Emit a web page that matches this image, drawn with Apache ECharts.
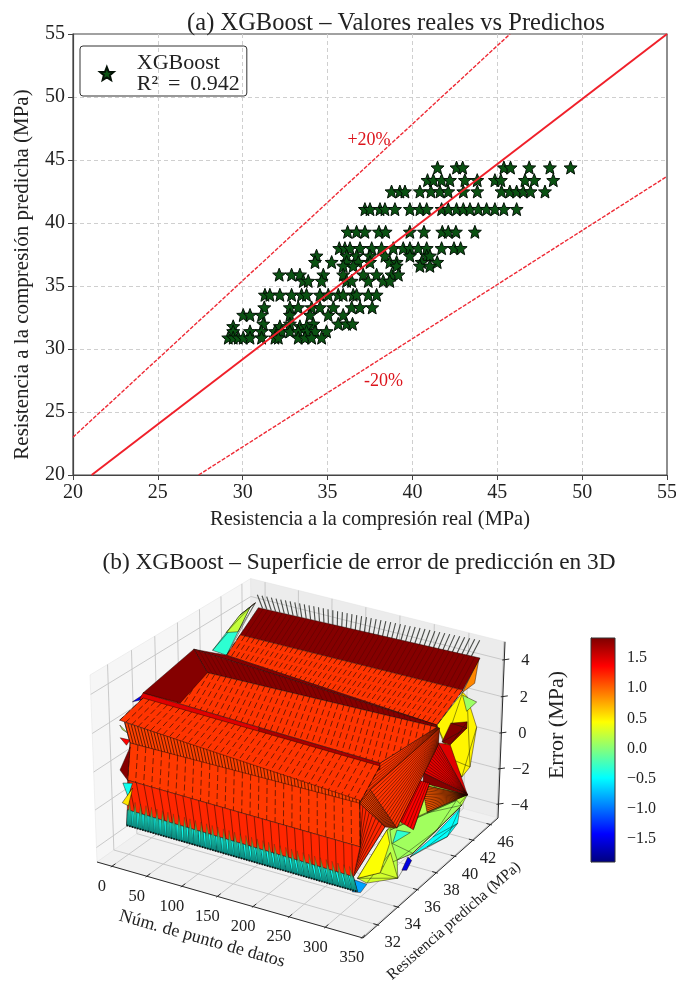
<!DOCTYPE html>
<html>
<head>
<meta charset="utf-8">
<style>
  html, body { margin: 0; background: #fff; }
  #chartDom { width: 676px; height: 981px; }
</style>
<script src="https://cdn.jsdelivr.net/npm/echarts@6/dist/echarts.min.js"></script>
</head>
<body>
<div id="chartDom"></div>
<script>
const FONT = '"Liberation Serif"';

// panel (a): stars grouped by predicted level, real values per level
const predLevels = [44.4, 43.4, 42.5, 41.1, 39.3, 38.0, 37.4, 36.9, 36.6, 35.9, 35.4, 34.3, 33.3, 32.7, 32.0, 31.8, 31.4, 30.9];
const realByLevel = [
  [41.48, 42.6, 42.96, 45.39, 45.78, 46.88, 48.1, 49.32],
  [40.89, 41.23, 41.72, 42.21, 43.09, 43.82, 44.86, 45.21, 46.63, 47.18, 48.3],
  [38.77, 39.26, 39.56, 40.44, 41.09, 41.62, 42.11, 43.0, 43.82, 45.25, 45.74, 46.14, 46.53, 46.96, 47.81],
  [37.2, 37.5, 38.09, 38.38, 38.97, 39.85, 40.44, 40.84, 41.72, 42.11, 42.6, 43.0, 43.39, 43.88, 44.37, 44.86, 45.39, 46.14],
  [36.18, 36.71, 37.2, 38.03, 38.42, 39.85, 40.68, 41.76, 42.11, 42.56, 43.68],
  [35.69, 36.02, 36.32, 36.91, 37.6, 38.18, 38.87, 39.46, 39.85, 40.34, 40.84, 41.72, 42.45, 42.84],
  [34.35, 36.12, 36.71, 37.5, 38.38, 39.85, 40.84, 41.03],
  [34.26, 35.24, 36.12, 36.81, 37.5, 38.67, 39.07, 40.54, 41.46],
  [35.92, 36.51, 39.07, 40.44, 41.03],
  [32.15, 32.88, 33.37, 34.75, 35.92, 37.1, 37.89, 38.77, 39.17],
  [33.57, 33.86, 34.65, 36.12, 36.42, 37.4, 38.28, 38.67],
  [31.31, 31.6, 32.19, 32.88, 33.47, 33.76, 34.55, 35.04, 35.63, 35.92, 36.51, 36.71, 37.4, 37.89],
  [31.27, 32.78, 33.27, 34.06, 34.55, 35.34, 36.42, 36.91, 37.63],
  [30.03, 30.43, 31.11, 32.78, 33.96, 35.04, 35.92],
  [31.21, 32.78, 34.16, 35.63, 36.12, 36.47],
  [29.44, 32.19, 33.37, 33.76],
  [29.44, 30.43, 31.11, 31.9, 32.29, 32.78, 33.27, 33.76, 34.26, 34.94],
  [29.15, 29.44, 29.74, 30.03, 30.43, 31.11, 31.9, 32.1, 33.27, 33.67, 34.06, 34.65]
];
const perfectLine = [[21.1, 20], [55, 55]];
const upperLine = [[20, 23], [45.75, 55]];
const lowerLine = [[27.4, 20], [55, 43.7]];
const bandNotes = [['+20%', 37.44, 46.6], ['-20%', 38.3, 27.46]];

// panel (b): axes of the 3D box
const idxLimits = [-21.6, 351.6];
const predLimits = [30.57, 44.86];
const errLimits = [-4.78, 4.98];
const idxTicks = [0, 50, 100, 150, 200, 250, 300, 350];
const predTicks = [32, 34, 36, 38, 40, 42, 44];
const predTickLabels = ['32', '34', '36', '38', '40', '42', '46'];
const errTicks = [-4, -2, 0, 2, 4];

// panel (b): surface pieces as [point number, predicted strength, error]
const needleBase = [[0, 44.6, 3.64], [340, 42.0, 5.11]];
const needleTip = [[0, 44.1, 4.55], [340, 42.9, 5.66]];
const spikeBase = [[0, 31.9, -3.17], [340, 30.8, -2.57]];
const spikeTip = [[0, 32.0, -1.86], [340, 30.3, -1.07]];
const backFringe = [[0, 39.8, 3.06], [0, 41.1, 2.32], [0, 43.4, 4.13], [0, 43.9, 4.18], [0, 42.4, 4.03]];
const backFringeTip = [[0, 41.1, 3.55], [0, 42.2, 3.2], [0, 43.4, 4.13], [0, 43.9, 4.18], [0, 42.4, 4.03]];
const blueTip = [[0, 32.7, 3.01], [0, 34.5, 3.05], [0, 34.2, 2.79], [0, 33.3, 2.86]];
const rimTop = [[0, 44.2, 3.81], [340, 43.0, 4.68], [340, 41.2, 3.65], [0, 42.4, 2.96]];
const rimSlope = [[0, 42.4, 2.96], [340, 41.2, 3.65], [340, 38.5, 2.85], [0, 41.1, 2.32]];
const rimFoot = [[0, 38.1, 3.74], [0, 41.1, 2.32], [340, 38.5, 2.85]];
const wedge = [[0, 38.1, 3.74], [340, 38.5, 2.85], [340, 38.5, 2.74], [0, 39.3, 2.04]];
const wedgeEnd = [[0, 38.1, 3.74], [0, 39.3, 2.04], [0, 36.8, 1.37], [0, 33.6, 3.12]];
const plate = [[0, 39.3, 2.04], [340, 38.5, 2.74], [340, 32.8, 3.19], [0, 33.6, 3.12]];
const ridgeLeft = [[0, 33.6, 3.12], [170, 33.2, 3.15], [170, 33.05, 2.93], [0, 33.3, 2.91]];
const ridgeRight = [[170, 33.2, 3.15], [340, 32.8, 3.19], [340, 32.8, 2.85], [170, 33.05, 2.93]];
const midBand = [[0, 33.6, 2.86], [340, 32.8, 3.04], [340, 30.9, 1.95], [0, 31.6, 2.49]];
const furrow = [[0, 32.0, 2.23], [340, 30.9, 2.10], [340, 30.9, 1.79], [0, 32.4, 0.99]];
const frontPanel = [[0, 32.4, 0.99], [340, 30.9, 1.95], [340, 31.0, -0.33], [0, 32.1, -0.85]];
const lowPanel = [[0, 32.1, -0.85], [340, 31.0, -0.33], [340, 30.4, -1.60], [0, 32.0, -2.38]];
const flap = [[340, 30.9, 1.95], [340, 33.4, -0.36], [340, 30.4, -1.60], [340, 31.0, -0.33]];
const slabFoot = [[340, 30.9, 1.95], [340, 31.9, 2.21], [340, 34.6, -0.95], [340, 33.4, -0.36]];
const slabGap = [[340, 38.5, 2.74], [340, 38.8, 2.56], [340, 30.9, 1.95], [340, 32.8, 3.19]];
const slab = [[340, 38.8, 2.56], [340, 38.7, 1.73], [340, 34.6, -0.95], [340, 31.9, 2.21]];
const slabSide = [[340, 36.84, 0.61], [340, 37.9, 0.01], [340, 36.3, -1.79], [340, 34.74, -0.62]];
const tailDark = [[340, 40.0, 2.36], [340, 41.8, 1.72], [340, 41.8, 1.38], [340, 40.0, 1.20], [340, 39.1, 1.72]];
const tailRed = [[340, 42.1, -2.39], [340, 42.1, -2.39], [340, 37.2, 0.86], [340, 38.7, 1.83]];
const tailRedSide = [[340, 42.1, -2.39], [340, 42.1, -2.39], [340, 38.7, 1.83], [340, 40.0, 1.20]];
const tailShade = [[340, 37.2, 0.86], [340, 42.1, -2.39], [340, 37.2, 0.32]];
const tailFan = [[340, 42.1, -2.39], [340, 42.1, -2.39], [340, 37.7, -1.45], [340, 37.1, 0.26]];
const amberEnd = [[340, 42.9, 4.72], [340, 42.5, 3.52], [340, 41.2, 3.54]];
const yellowWall = [[340, 41.7, 3.10], [340, 42.9, 0.99], [340, 42.3, -0.94], [340, 41.4, -1.13], [340, 40.3, 0.28], [340, 39.4, 1.42], [340, 38.5, 2.85], [340, 41.2, 3.54]];
const wallTips = [[340, 41.2, 3.38], [340, 42.8, 2.40], [340, 41.7, 2.33]];
const patchBase = [[340, 33.6, -0.61], [340, 37.9, 0.01], [340, 42.1, -2.39], [340, 41.5, -2.72], [340, 38.8, -2.92], [340, 36.3, -3.06], [340, 34.7, -2.69], [340, 34.8, -3.72], [340, 30.8, -1.87]];
const patchYellow = [[340, 33.6, -0.61], [340, 30.8, -1.87], [340, 33.0, -2.60], [340, 33.9, -1.44]];
const patchLime = [[340, 30.8, -1.87], [340, 31.7, -2.54], [340, 34.8, -3.72], [340, 34.0, -1.98], [340, 33.0, -2.60]];
const patchGreen = [[340, 33.9, -0.75], [340, 37.7, -1.50], [340, 40.9, -2.19], [340, 41.5, -2.72], [340, 38.8, -2.92], [340, 36.3, -3.06], [340, 34.7, -2.69], [340, 34.1, -1.53]];
const patchCyan = [[340, 38.4, -3.12], [340, 41.3, -2.80], [340, 41.1, -3.56], [340, 40.0, -3.81], [340, 37.8, -3.39], [340, 36.0, -3.13]];
const patchBlue = [[340, 35.2, -3.47], [340, 35.8, -3.04], [340, 36.2, -3.40], [340, 35.7, -3.71]];
const patchAqua = [[340, 34.6, -1.06], [340, 36.0, -1.81], [340, 34.2, -1.58]];
const patchCorner = [[340, 30.4, -1.75], [340, 31.7, -2.60], [340, 31.1, -2.76], [340, 30.3, -2.34]];
const leftGreen = [[0, 31.6, 2.24], [0, 32.2, 1.60], [0, 31.8, 1.92]];
const leftDark = [[0, 31.5, -0.06], [0, 32.4, 0.78], [0, 32.1, -0.85]];
const leftCyan = [[0, 31.7, -0.83], [0, 32.5, -1.18], [0, 32.1, -1.74]];
const leftYellow = [[0, 31.6, -1.83], [0, 32.5, -1.44], [0, 32.1, -2.21]];
const leftRed = [[0, 31.6, 1.58], [0, 32.4, 1.14], [0, 32.1, 0.99]];
const spikeBand = [[0, 31.9, -3.17], [340, 30.8, -2.57], [340, 30.4, -1.60], [0, 32.0, -2.38]];

// colorbar
const colorbarRange = [-1.88, 1.83];
const colorbarTicks = [-1.5, -1.0, -0.5, 0.0, 0.5, 1.0, 1.5];

// painted back to front: piece, colorbar value
const surfacePieces = [
  [backFringe, -0.3], [backFringeTip, 0.25], [blueTip, -1.4], [amberEnd, 0.9], [yellowWall, 0.5], [wallTips, 0.1],
  [patchBase, 0.2], [patchCyan, -0.45], [patchBlue, -1.5], [patchGreen, 0.12], [patchAqua, -0.3], [patchLime, 0.3], [patchYellow, 0.45], [patchCorner, -0.8],
  [rimTop, 1.83], [rimSlope, 1.2], [rimFoot, 1.83], [tailFan, 1.05], [tailRed, 1.5], [tailRedSide, 1.5], [tailShade, 1.83], [tailDark, 1.83],
  [slabGap, 1.2], [wedge, 1.83], [plate, 1.2], [wedgeEnd, 1.83], [ridgeLeft, 1.5], [ridgeRight, 1.7], [midBand, 1.2],
  [slabSide, 1.4], [slabFoot, 1.15], [slab, 1.2], [flap, 1.25], [furrow, 1.15], [frontPanel, 1.18], [lowPanel, 1.25], [spikeBand, -0.42],
  [leftGreen, 0.2], [leftRed, 1.4], [leftDark, 1.83], [leftCyan, -0.4], [leftYellow, 0.55]
];
// mesh lines per piece: count, lean, dash, opacity
const meshStyle = new Map([
  [rimTop, [45, 0, null, 0.3]], [rimSlope, [45, 0, [6, 3], 0.8]], [wedge, [45, 0, null, 0.3]],
  [plate, [48, 0.19, [6, 3], 0.8]], [midBand, [38, 0, [6, 3], 0.8]], [furrow, [70, 0, null, 0.85]],
  [frontPanel, [28, 0, [6, 3], 0.75]], [lowPanel, [30, 0.03, null, 0.65]], [flap, [8, 0, null, 0.7]],
  [slabFoot, [10, 0, null, 0.85]], [slabGap, [8, 0, null, 0.6]], [slab, [15, 0, null, 0.65]], [slabSide, [5, 0, null, 0.6]],
  [tailRed, [12, 0, null, 0.55]], [tailFan, [14, 0, null, 0.7]], [spikeBand, [90, 0, null, 0.7]]
]);

const jetStops = [[0, [0, 0, 127]], [0.125, [0, 0, 255]], [0.375, [0, 255, 255]], [0.625, [255, 255, 0]], [0.875, [255, 0, 0]], [1, [127, 0, 0]]];
function jetColor(t) {
  t = Math.max(0, Math.min(1, t));
  let i = 0;
  while (i < jetStops.length - 2 && t > jetStops[i + 1][0]) i++;
  const a = jetStops[i], b = jetStops[i + 1];
  const k = (t - a[0]) / (b[0] - a[0]);
  const c = a[1].map((v, n) => Math.round(v + (b[1][n] - v) * k));
  return 'rgb(' + c.join(',') + ')';
}
function levelColor(v) {
  return jetColor((v + 1.85) / 3.7);
}

// perspective of the 3D box, worked out from its corners in the scene grid
const cornerA = [97, 862], cornerB = [363, 938], cornerC = [498, 818], cornerD = [252, 752], topA = [90, 675], topC = [505, 635];
function det(a, b, c, d) { return a * d - b * c; }
const r0 = cornerC[0] + cornerA[0] - cornerB[0] - cornerD[0];
const r1 = cornerC[1] + cornerA[1] - cornerB[1] - cornerD[1];
const m0 = det(cornerB[0] - cornerC[0], cornerD[0] - cornerC[0], cornerB[1] - cornerC[1], cornerD[1] - cornerC[1]);
const wu = det(r0, cornerD[0] - cornerC[0], r1, cornerD[1] - cornerC[1]) / m0;
const wv = det(cornerB[0] - cornerC[0], r0, cornerB[1] - cornerC[1], r1) / m0;
const pu = [0, 1].map(i => cornerB[i] * (1 + wu) - cornerA[i]);
const pv = [0, 1].map(i => cornerD[i] * (1 + wv) - cornerA[i]);
const wt = (topC[0] * (1 + wu + wv) - pu[0] - pv[0] - topA[0]) / (topA[0] - topC[0]);
const pt = [0, 1].map(i => topA[i] * (1 + wt) - cornerA[i]);

function project3d(p) {
  const u = (p[0] - idxLimits[0]) / (idxLimits[1] - idxLimits[0]);
  const v = (p[1] - predLimits[0]) / (predLimits[1] - predLimits[0]);
  const t = (p[2] - errLimits[0]) / (errLimits[1] - errLimits[0]);
  const w = 1 + wu * u + wv * v + wt * t;
  return [0, 1].map(i => (cornerA[i] + pu[i] * u + pv[i] * v + pt[i] * t) / w);
}
function lerp3(a, b, k) {
  return a.map((v, i) => v + (b[i] - v) * k);
}

const xLo = idxLimits[0], xHi = idxLimits[1], yLo = predLimits[0], yHi = predLimits[1], zLo = errLimits[0], zHi = errLimits[1];

function boxItem(params, api) {
  const at = p => api.coord(project3d(p));
  const kids = [];
  const pane = (pts, fill) => kids.push({ type: 'polygon', shape: { points: pts.map(at) }, style: { fill: fill, stroke: '#e2e2e2', lineWidth: 0.5 } });
  const seg = (a, b, stroke, w) => kids.push({ type: 'line', shape: { x1: at(a)[0], y1: at(a)[1], x2: at(b)[0], y2: at(b)[1] }, style: { stroke: stroke, lineWidth: w } });
  pane([[xLo, yLo, zLo], [xLo, yHi, zLo], [xLo, yHi, zHi], [xLo, yLo, zHi]], '#f6f6f6');
  pane([[xLo, yHi, zLo], [xHi, yHi, zLo], [xHi, yHi, zHi], [xLo, yHi, zHi]], '#ececec');
  pane([[xLo, yLo, zLo], [xHi, yLo, zLo], [xHi, yHi, zLo], [xLo, yHi, zLo]], '#f1f1f1');
  const gridC = '#c4c4c4';
  idxTicks.forEach(x => {
    seg([x, yLo, zLo], [x, yHi, zLo], gridC, 0.9);
    seg([x, yHi, zLo], [x, yHi, zHi], gridC, 0.9);
  });
  predTicks.forEach(y => {
    seg([xLo, y, zLo], [xHi, y, zLo], gridC, 0.9);
    seg([xLo, y, zLo], [xLo, y, zHi], gridC, 0.9);
  });
  errTicks.forEach(z => {
    seg([xLo, yLo, z], [xLo, yHi, z], gridC, 0.9);
    seg([xLo, yHi, z], [xHi, yHi, z], gridC, 0.9);
  });
  const axisC = '#2a2a2a';
  seg([xLo, yLo, zLo], [xHi, yLo, zLo], axisC, 1);
  seg([xHi, yLo, zLo], [xHi, yHi, zLo], axisC, 1);
  seg([xHi, yHi, zLo], [xHi, yHi, zHi], axisC, 1);
  const label = (text, c, dx, dy) => kids.push({
    type: 'text', x: c[0] + dx, y: c[1] + dy,
    style: { text: text, fill: '#222', font: '16.5px ' + FONT, textAlign: 'center', textVerticalAlign: 'middle' }
  });
  idxTicks.forEach(x => {
    seg([x, yLo - 0.1, zLo], [x, yLo + 0.3, zLo], axisC, 1);
    label(String(x), at([x, yLo, zLo]), -10, 20);
  });
  predTicks.forEach((y, i) => {
    seg([xHi - 6, y, zLo], [xHi + 2, y, zLo], axisC, 1);
    label(predTickLabels[i], at([xHi, y, zLo]), 15, 18);
  });
  errTicks.forEach(z => {
    const c = at([xHi, yHi, z]);
    kids.push({ type: 'line', shape: { x1: c[0] - 2, y1: c[1], x2: c[0] + 5, y2: c[1] - 1 }, style: { stroke: axisC, lineWidth: 1 } });
    label(String(z).replace('-', '\u2212'), c, 21, 1);
  });
  return { type: 'group', children: kids };
}

function needleItem(params, api) {
  const at = p => api.coord(project3d(p));
  const n = 46;
  const kids = [];
  for (let k = 0; k <= n; k++) {
    const a = at(lerp3(needleBase[0], needleBase[1], k / n));
    const b = at(lerp3(needleTip[0], needleTip[1], k / n));
    kids.push({ type: 'line', shape: { x1: a[0], y1: a[1], x2: b[0], y2: b[1] }, style: { stroke: '#2c2f2a', lineWidth: 1.1, opacity: 0.85 } });
  }
  return { type: 'group', children: kids };
}

function pieceItem(params, api) {
  const at = p => api.coord(project3d(p));
  const piece = surfacePieces[params.dataIndex];
  const pts = piece[0];
  const kids = [{ type: 'polygon', shape: { points: pts.map(at) }, style: { fill: levelColor(piece[1]), stroke: 'rgba(25,5,0,0.75)', lineWidth: 0.6 } }];
  const mesh = meshStyle.get(pts);
  if (mesh) {
    const lean = mesh[1];
    // lines run from the back edge to the front edge, clipped to the piece
    const inPiece = (s, t) => lerp3(lerp3(pts[0], pts[1], s), lerp3(pts[3], pts[2], s), t);
    for (let k = 0; k <= mesh[0]; k++) {
      const f = -lean + (1 + lean) * k / mesh[0];
      const t0 = f < 0 ? -f / lean : 0;
      const t1 = f + lean > 1 ? (1 - f) / lean : 1;
      const a = at(inPiece(f + lean * t0, t0));
      const b = at(inPiece(f + lean * t1, t1));
      kids.push({ type: 'line', shape: { x1: a[0], y1: a[1], x2: b[0], y2: b[1] }, style: { stroke: '#1c0800', lineWidth: 0.8, opacity: mesh[3], lineDash: mesh[2] } });
    }
  } else if (pts.length > 4) {
    // fringe pieces are crossed by their own small triangles
    for (let k = 0; k + 2 < pts.length; k++) {
      const a = at(pts[k]), b = at(pts[k + 2]);
      kids.push({ type: 'line', shape: { x1: a[0], y1: a[1], x2: b[0], y2: b[1] }, style: { stroke: '#10180a', lineWidth: 0.6, opacity: 0.75 } });
    }
  }
  return { type: 'group', children: kids };
}

function spikeItem(params, api) {
  const at = p => api.coord(project3d(p));
  const n = 40;
  const kids = [];
  for (let k = 0; k < n; k++) {
    const a = at(lerp3(spikeBase[0], spikeBase[1], k / n));
    const b = at(lerp3(spikeBase[0], spikeBase[1], (k + 1) / n));
    const c = at(lerp3(spikeTip[0], spikeTip[1], (k + 0.5) / n));
    kids.push({
      type: 'polygon', shape: { points: [a, b, c] },
      style: {
        fill: new echarts.graphic.LinearGradient(0, 1, 0, 0, [{ offset: 0, color: '#0a7f78' }, { offset: 0.5, color: '#17b8a0' }, { offset: 0.8, color: '#7a8f20' }, { offset: 1, color: '#e0500a' }]),
        stroke: 'rgba(5,40,35,0.55)', lineWidth: 0.4
      }
    });
  }
  const l = at(spikeBase[0]), r = at(spikeBase[1]);
  kids.push({ type: 'line', shape: { x1: l[0], y1: l[1], x2: r[0], y2: r[1] }, style: { stroke: '#0c1413', lineWidth: 1.8, lineDash: [1.5, 1.2] } });
  return { type: 'group', children: kids };
}

const sceneTexts = [
  ['N\u00fam. de punto de datos', 202, 939, -0.276, 18],
  ['Resistencia predicha (MPa)', 454, 921, 0.717, 15.5],
  ['Error (MPa)', 557, 725, Math.PI / 2, 22]
];
function sceneText(params, api) {
  const t = sceneTexts[params.dataIndex];
  const c = api.coord([t[1], t[2]]);
  return { type: 'text', x: c[0], y: c[1], rotation: t[3], style: { text: t[0], fill: '#222', font: t[4] + 'px ' + FONT, textAlign: 'center', textVerticalAlign: 'middle' } };
}

function colorbarItem(params, api) {
  const a = api.coord([0, colorbarRange[1]]), b = api.coord([1, colorbarRange[0]]);
  const stops = jetStops.map(s => ({ offset: s[0], color: jetColor(s[0]) }));
  return {
    type: 'rect', shape: { x: a[0], y: a[1], width: b[0] - a[0], height: b[1] - a[1] },
    style: { fill: new echarts.graphic.LinearGradient(0, 1, 0, 0, stops) }
  };
}

const starPath = 'path://M0,-10 L2.6,-3.4 L9.51,-3.09 L4.2,1.3 L5.88,8.09 L0,4.4 L-5.88,8.09 L-4.2,1.3 L-9.51,-3.09 L-2.6,-3.4 Z';
const starData = [];
predLevels.forEach((y, i) => realByLevel[i].forEach(x => starData.push([x, y])));

const legendName = 'XGBoost\nR\u00b2 \u2009=\u2009 0.942';
const axisTextA = { color: '#222', fontFamily: FONT, fontSize: 20 };
const splitA = { showMinLine: false, showMaxLine: false, lineStyle: { type: [4, 3], color: '#cfcfcf', width: 1 } };

const option = {
  animation: false,
  backgroundColor: '#fff',
  title: [
    { text: '(a) XGBoost \u2013 Valores reales vs Predichos', left: 391, top: 6, textAlign: 'center', textStyle: { fontFamily: FONT, fontWeight: 'normal', fontSize: 24.5, color: '#222' } },
    { text: '(b) XGBoost \u2013 Superficie de error de predicci\u00f3n en 3D', left: 354, top: 546, textAlign: 'center', textStyle: { fontFamily: FONT, fontWeight: 'normal', fontSize: 23.3, color: '#222' } }
  ],
  legend: {
    left: 80, top: 46, padding: [6, 7, 1, 19], orient: 'vertical',
    data: [{ name: legendName, icon: starPath }],
    itemWidth: 50, itemHeight: 13,
    borderColor: '#333', borderWidth: 1, borderRadius: 3,
    textStyle: { fontFamily: FONT, fontSize: 22, color: '#222', lineHeight: 21 }
  },
  grid: [
    { left: 73, top: 34, width: 594, height: 441, show: true, borderColor: '#444', borderWidth: 1.2, backgroundColor: 'transparent', outerBoundsMode: 'none' },
    { left: 0, top: 0, width: 676, height: 981, outerBoundsMode: 'none' },
    { left: 591, top: 638, width: 24, height: 224, show: true, borderColor: '#333', borderWidth: 1, z: 5, outerBoundsMode: 'none' }
  ],
  xAxis: [
    {
      gridIndex: 0, type: 'value', min: 20, max: 55, interval: 5,
      name: 'Resistencia a la compresi\u00f3n real (MPa)', nameLocation: 'middle', nameGap: 35,
      nameTextStyle: { fontFamily: FONT, fontSize: 20.4, color: '#222' },
      axisLine: { lineStyle: { color: '#444', width: 1.2 } }, axisTick: { length: 5, lineStyle: { color: '#444' } },
      axisLabel: axisTextA, splitLine: splitA
    },
    { gridIndex: 1, type: 'value', min: 0, max: 676, show: false },
    { gridIndex: 2, type: 'value', min: 0, max: 1, show: false }
  ],
  yAxis: [
    {
      gridIndex: 0, type: 'value', min: 20, max: 55, interval: 5,
      name: 'Resistencia a la compresi\u00f3n predicha (MPa)', nameLocation: 'middle', nameGap: 40,
      nameTextStyle: { fontFamily: FONT, fontSize: 21, color: '#222', padding: [0, 40, 0, 0] },
      axisLine: { lineStyle: { color: '#444', width: 1.2 } }, axisTick: { length: 5, lineStyle: { color: '#444' } },
      axisLabel: axisTextA, splitLine: splitA
    },
    { gridIndex: 1, type: 'value', min: 0, max: 981, inverse: true, show: false },
    {
      gridIndex: 2, type: 'value', position: 'right', min: colorbarRange[0], max: colorbarRange[1],
      axisLine: { show: true, lineStyle: { color: '#333' } },
      axisTick: { show: true, length: 5, customValues: colorbarTicks, lineStyle: { color: '#333' } },
      axisLabel: { show: true, margin: 12, customValues: colorbarTicks, color: '#222', fontFamily: FONT, fontSize: 16, formatter: v => v.toFixed(1).replace('-', '\u2212') },
      splitLine: { show: false }
    }
  ],
  series: [
    {
      name: legendName, type: 'scatter', xAxisIndex: 0, yAxisIndex: 0, data: starData, symbol: starPath, symbolSize: 13, z: 3,
      itemStyle: { color: '#0a5212', borderColor: '#031005', borderWidth: 1, opacity: 1 }
    },
    { type: 'line', xAxisIndex: 0, yAxisIndex: 0, data: perfectLine, showSymbol: false, z: 4, lineStyle: { color: '#f0202a', width: 2 } },
    { type: 'line', xAxisIndex: 0, yAxisIndex: 0, data: upperLine, showSymbol: false, z: 4, lineStyle: { color: '#ee2a35', width: 1.4, type: [4, 1.5] } },
    { type: 'line', xAxisIndex: 0, yAxisIndex: 0, data: lowerLine, showSymbol: false, z: 4, lineStyle: { color: '#ee2a35', width: 1.4, type: [4, 1.5] } },
    {
      type: 'scatter', xAxisIndex: 0, yAxisIndex: 0, symbolSize: 1, z: 5, itemStyle: { color: 'rgba(0,0,0,0)', opacity: 1 },
      data: bandNotes.map(n => ({ value: [n[1], n[2]], name: n[0] })),
      label: { show: true, position: 'inside', formatter: '{b}', color: '#dc141c', opacity: 1, fontFamily: FONT, fontSize: 18 }
    },
    { type: 'custom', xAxisIndex: 1, yAxisIndex: 1, data: [0], renderItem: boxItem, clip: false, silent: true, z: 2 },
    { type: 'custom', xAxisIndex: 1, yAxisIndex: 1, data: [0], renderItem: needleItem, clip: false, silent: true, z: 3 },
    { type: 'custom', xAxisIndex: 1, yAxisIndex: 1, data: surfacePieces.map((p, i) => i), renderItem: pieceItem, clip: false, silent: true, z: 4 },
    { type: 'custom', xAxisIndex: 1, yAxisIndex: 1, data: [0], renderItem: spikeItem, clip: false, silent: true, z: 5 },
    { type: 'custom', xAxisIndex: 1, yAxisIndex: 1, data: sceneTexts.map((t, i) => i), renderItem: sceneText, clip: false, silent: true, z: 6 },
    { type: 'custom', xAxisIndex: 2, yAxisIndex: 2, data: [0], renderItem: colorbarItem, silent: true, z: 2 }
  ]
};

const myChart = echarts.init(document.getElementById('chartDom'), null, { renderer: 'canvas' });
myChart.setOption(option);
</script>
</body>
</html>
